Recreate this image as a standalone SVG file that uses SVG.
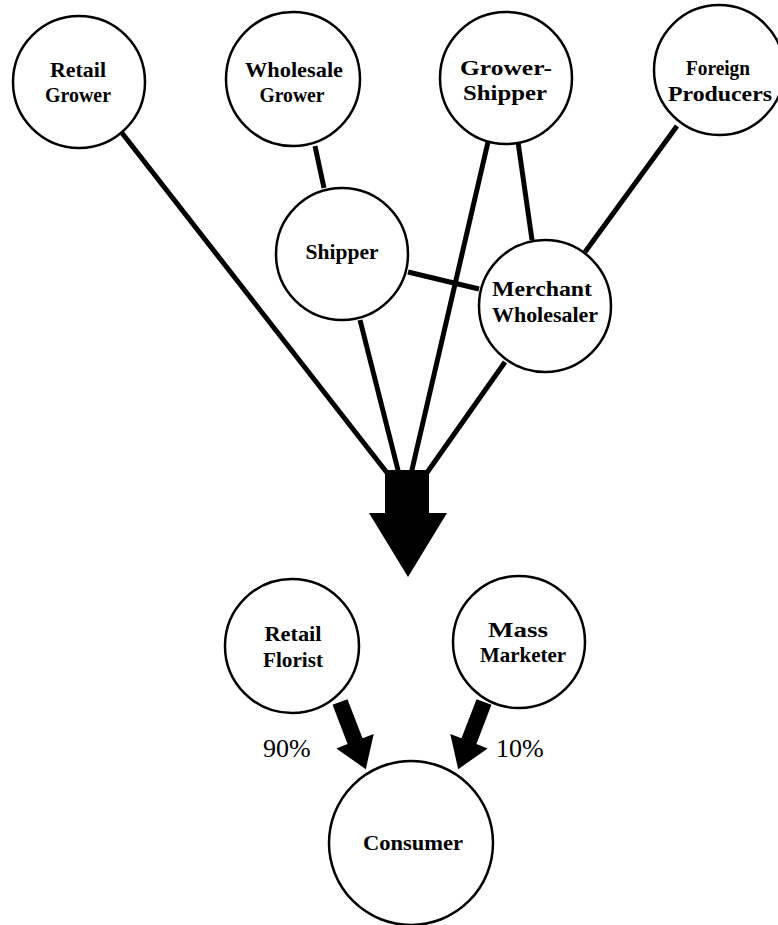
<svg xmlns="http://www.w3.org/2000/svg" width="778" height="925" viewBox="0 0 778 925">
<style>
.node circle{fill:#fff;stroke:#000;stroke-width:2.5}
.node text{font-family:"Liberation Serif",serif;font-weight:bold;font-size:21px;text-anchor:middle;fill:#000}
.edge{stroke:#000;stroke-width:5;stroke-linecap:butt;fill:none}
.pct{font-family:"Liberation Serif",serif;font-size:26px;fill:#000}
</style>
<rect width="778" height="925" fill="#fff"/>
<g id="connectors">
<line class="edge" x1="122" y1="133" x2="388" y2="474"/>
<line class="edge" x1="315" y1="146" x2="324" y2="188"/>
<line class="edge" x1="360" y1="320" x2="399" y2="474"/>
<line class="edge" x1="488" y1="142" x2="411" y2="474"/>
<line class="edge" x1="518" y1="142" x2="532" y2="240"/>
<line class="edge" x1="677" y1="126" x2="585" y2="252"/>
<line class="edge" x1="408" y1="272" x2="479" y2="289"/>
<line class="edge" x1="505" y1="362" x2="426" y2="474"/>
<polygon id="main-arrow" points="385,470 429,470 429,513 447,513 408,577 369,513 385,513" fill="#000"/>
<polygon id="arrow-90" transform="translate(340,702) rotate(-21)" points="-8,0 8,0 8,42 20,42 0,72 -20,42 -8,42" fill="#000"/>
<polygon id="arrow-10" transform="translate(484,702) rotate(21)" points="-8,0 8,0 8,42 20,42 0,72 -20,42 -8,42" fill="#000"/>
</g>
<g id="retail-grower" class="node"><circle cx="79" cy="82" r="66"/><text x="78" y="77" textLength="56" lengthAdjust="spacingAndGlyphs">Retail</text><text x="78" y="102" textLength="66" lengthAdjust="spacingAndGlyphs">Grower</text></g>
<g id="wholesale-grower" class="node"><circle cx="293" cy="79" r="67"/><text x="294" y="77" textLength="98" lengthAdjust="spacingAndGlyphs">Wholesale</text><text x="292" y="102" textLength="65" lengthAdjust="spacingAndGlyphs">Grower</text></g>
<g id="grower-shipper" class="node"><circle cx="506" cy="78" r="66"/><text x="506" y="75" textLength="92" lengthAdjust="spacingAndGlyphs">Grower-</text><text x="505" y="100" textLength="84" lengthAdjust="spacingAndGlyphs">Shipper</text></g>
<g id="foreign-producers" class="node"><circle cx="719" cy="70" r="65"/><text x="718" y="75" textLength="64" lengthAdjust="spacingAndGlyphs">Foreign</text><text x="720" y="101" textLength="104" lengthAdjust="spacingAndGlyphs">Producers</text></g>
<g id="shipper" class="node"><circle cx="342" cy="254" r="66"/><text x="342" y="259" textLength="73" lengthAdjust="spacingAndGlyphs">Shipper</text></g>
<g id="merchant-wholesaler" class="node"><circle cx="545" cy="306" r="66"/><text x="542" y="296" textLength="100" lengthAdjust="spacingAndGlyphs">Merchant</text><text x="545" y="322" textLength="106" lengthAdjust="spacingAndGlyphs">Wholesaler</text></g>
<g id="retail-florist" class="node"><circle cx="292" cy="646" r="67"/><text x="293" y="641" textLength="57" lengthAdjust="spacingAndGlyphs">Retail</text><text x="293" y="667" textLength="60" lengthAdjust="spacingAndGlyphs">Florist</text></g>
<g id="mass-marketer" class="node"><circle cx="519" cy="642" r="66"/><text x="518" y="637" textLength="60" lengthAdjust="spacingAndGlyphs">Mass</text><text x="523" y="662" textLength="86" lengthAdjust="spacingAndGlyphs">Marketer</text></g>
<g id="consumer" class="node"><circle cx="411" cy="843" r="82"/><text x="413" y="850" textLength="100" lengthAdjust="spacingAndGlyphs">Consumer</text></g>
<text class="pct" x="263" y="757">90%</text>
<text class="pct" x="496" y="757">10%</text>
</svg>
